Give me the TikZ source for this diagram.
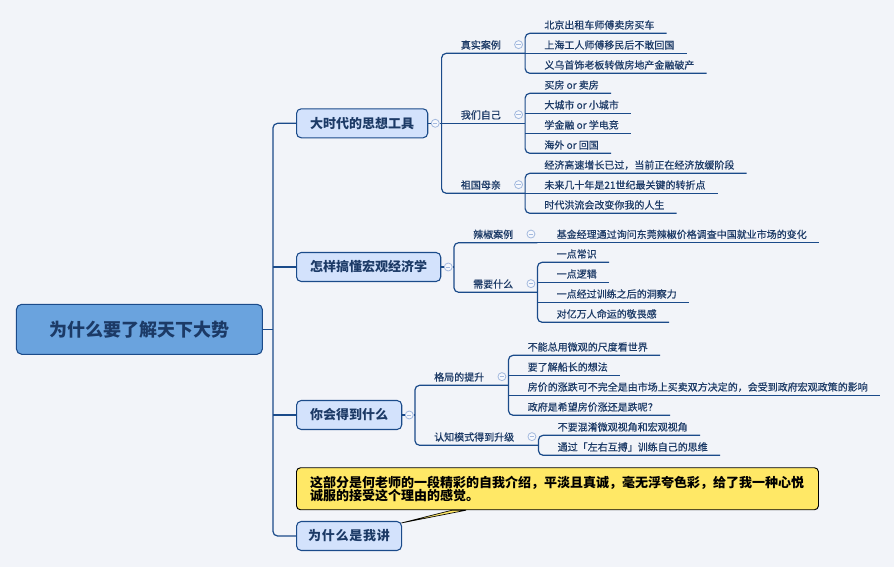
\documentclass[tikz,border=0pt]{standalone}
\usepackage{fontspec}
\setmainfont{Noto Sans CJK SC}
\usepackage{xcolor}
\usepackage{tikz}
\usetikzlibrary{positioning}

\definecolor{bgcol}{HTML}{F2F4F9}
\definecolor{linecol}{HTML}{1B4B8A}
\definecolor{inkcol}{HTML}{1C3A66}
\definecolor{rootfill}{HTML}{6AA3DE}
\definecolor{topicfill}{HTML}{D3E2FC}
\definecolor{foldcol}{HTML}{A3B9DE}
\definecolor{foldfill}{HTML}{F6F8FD}
\definecolor{notefill}{HTML}{FFE866}

\tikzset{
  rootbox/.style={draw=linecol, fill=rootfill, line width=0.8pt, rounded corners=4pt,
    minimum width=184.5pt, minimum height=37.5pt, text=inkcol,
    font=\bfseries\fontsize{13.5}{16}\selectfont},
  topic/.style={draw=linecol, fill=topicfill, line width=0.8pt, rounded corners=3.5pt,
    anchor=west, minimum height=21.75pt, inner xsep=10.2pt, text=inkcol,
    font=\bfseries\fontsize{9.75}{12}\selectfont},
  mmtext/.style={anchor=south west, inner sep=0pt, text height=7pt, text depth=3.2pt,
    text=inkcol, font=\fontsize{7.5}{9}\selectfont\addfontfeature{FakeBold=0.6},
    execute at begin node={\hspace*{14.25pt}}},
  subtopic/.style={mmtext, execute at end node={\hspace*{18pt}}},
  leaf/.style={mmtext, execute at end node={\hspace*{9pt}}},
  fold/.style={circle, draw=foldcol, fill=foldfill, line width=0.6pt, minimum size=6pt, inner sep=0pt,
    path picture={\draw[foldcol, line width=0.6pt]
      ([xshift=-1.6pt]path picture bounding box.center) -- ([xshift=1.6pt]path picture bounding box.center);}},
  link/.style={draw=linecol, line width=0.9pt, rounded corners=3.5pt},
  note/.style={draw=black, fill=notefill, line width=0.7pt, rounded corners=3pt, anchor=north west,
    align=left, text width=371pt, inner xsep=10.25pt, minimum height=31.5pt,
    font=\bfseries\fontsize{9.75}{10}\selectfont}
}

\begin{document}
\begin{tikzpicture}[x=0.75pt, y=-0.75pt]
\fill[bgcol] (0,0) rectangle (894,567);

% root and main topics
\node[rootbox] (root) at (139.4,329.3) {为什么要了解天下大势};
\coordinate (trunk) at ([xshift=7.5pt]root.east);
\node[topic] (t1) at (296,123.3) {大时代的思想工具};
\node[topic] (t2) at (296,267) {怎样搞懂宏观经济学};
\node[topic] (t3) at (296,415) {你会得到什么};
\node[topic, minimum width=78.75pt, inner xsep=8pt, font=\bfseries\fontsize{9.75}{12}\selectfont\addfontfeature{LetterSpace=6}]
  (t4) at (296,536) {为什么是我讲};

\draw[link] (root) -- (trunk);
\draw[link] (t1.west) -- (t1.west -| trunk) -- (t4.west -| trunk) -- (t4.west);
\draw[link] (trunk |- t2.west) -- (t2.west);
\draw[link] (trunk |- t3.west) -- (t3.west);

\foreach \t in {t1,t2,t3} {
  \node[fold] (\t-f) at ([xshift=5.25pt]\t.east) {};
  \draw[link] (\t.east) -- (\t-f.west);
}
\coordinate (v1) at ([xshift=10pt]t1.east);
\coordinate (v2) at ([xshift=9.5pt]t2.east);
\coordinate (v3) at ([xshift=9.5pt]t3.east);

% branch 1
\node[subtopic] (case) at (v1 |- 0,53.3) {真实案例};
\node[subtopic] (self) at (v1 |- 0,123.3) {我们自己};
\node[subtopic] (home) at (v1 |- 0,193.3) {祖国母亲};
\draw[link] (t1-f.east) -- (v1);
\draw[link] (case.south east) -- (case.south west) -- (home.south west) -- (home.south east);
\draw[link] (v1) -- (self.south east);

\foreach \y/\txt [count=\i] in {33.3/北京出租车师傅卖房买车, 53.3/上海工人师傅移民后不敢回国,
    73.3/义乌首饰老板转做房地产金融破产}
  \node[leaf] (case\i) at (case.south east |- 0,\y) {\txt};
\foreach \y/\txt [count=\i] in {93.3/买房 or 卖房, 113.3/大城市 or 小城市, 133.3/学金融 or 学电竞,
    153.3/海外 or 回国}
  \node[leaf] (self\i) at (self.south east |- 0,\y) {\txt};
\foreach \y/\txt [count=\i] in {173.3/经济高速增长已过，当前正在经济放缓阶段,
    193.3/未来几十年是21世纪最关键的转折点, 213.3/时代洪流会改变你我的人生}
  \node[leaf] (home\i) at (home.south east |- 0,\y) {\txt};

\draw[link] (case1.south east) -- (case1.south west) -- (case3.south west) -- (case3.south east);
\draw[link] (case2.south west) -- (case2.south east);
\draw[link] (self1.south east) -- (self1.south west) -- (self4.south west) -- (self4.south east);
\draw[link] (self2.south west) -- (self2.south east);
\draw[link] (self3.south west) -- (self3.south east);
\draw[link] (home1.south east) -- (home1.south west) -- (home3.south west) -- (home3.south east);
\draw[link] (home2.south west) -- (home2.south east);

% branch 2
\node[subtopic] (chili) at (v2 |- 0,242.7) {辣椒案例};
\node[subtopic] (need) at (v2 |- 0,292.3) {需要什么};
\draw[link] (t2-f.east) -- (v2);
\draw[link] (chili.south east) -- (chili.south west) -- (need.south west) -- (need.south east);

\node[leaf] (chili1) at (chili.south east) {基金经理通过询问东莞辣椒价格调查中国就业市场的变化};
\foreach \y/\txt [count=\i] in {262.3/一点常识, 282.3/一点逻辑, 302.3/一点经过训练之后的洞察力,
    322.3/对亿万人命运的敬畏感}
  \node[leaf] (need\i) at (need.south east |- 0,\y) {\txt};

\draw[link] (chili.south east) -- (chili1.south east);
\draw[link] (need1.south east) -- (need1.south west) -- (need4.south west) -- (need4.south east);
\draw[link] (need2.south west) -- (need2.south east);
\draw[link] (need3.south west) -- (need3.south east);

% branch 3
\node[subtopic] (view) at (v3 |- 0,385.3) {格局的提升};
\node[subtopic] (mode) at (v3 |- 0,445.3) {认知模式得到升级};
\draw[link] (t3-f.east) -- (v3);
\draw[link] (view.south east) -- (view.south west) -- (mode.south west) -- (mode.south east);

\foreach \y/\txt [count=\i] in {355.3/不能总用微观的尺度看世界, 375.3/要了解船长的想法,
    395.3/房价的涨跌可不完全是由市场上买卖双方决定的，会受到政府宏观政策的影响,
    415.3/政府是希望房价涨还是跌呢？}
  \node[leaf] (view\i) at (view.south east |- 0,\y) {\txt};
\foreach \y/\txt [count=\i] in {435.3/不要混淆微观视角和宏观视角, 455.3/通过「左右互搏」训练自己的思维}
  \node[leaf] (mode\i) at (mode.south east |- 0,\y) {\txt};

\draw[link] (view1.south east) -- (view1.south west) -- (view4.south west) -- (view4.south east);
\draw[link] (view2.south west) -- (view2.south east);
\draw[link] (view3.south west) -- (view3.south east);
\draw[link] (mode1.south east) -- (mode1.south west) -- (mode2.south west) -- (mode2.south east);

\foreach \s in {case,self,home,chili,need,view,mode}
  \node[fold] (\s-f) at ([xshift=-4.9pt,yshift=6.5pt]\s.south east) {};

% note on branch 4
\node[note] (note) at (296,467.3) {这部分是何老师的一段精彩的自我介绍，平淡且真诚，毫无浮夸色彩，给了我一种心悦\\诚服的接受这个理由的感觉。};
\filldraw[fill=notefill, draw=black, line width=0.5pt]
  ([xshift=-0.5pt,yshift=-1.5pt]t4.north east) -- ([xshift=117pt]note.south west)
  -- ([xshift=127.5pt]note.south west) -- cycle;
\end{tikzpicture}
\end{document}
